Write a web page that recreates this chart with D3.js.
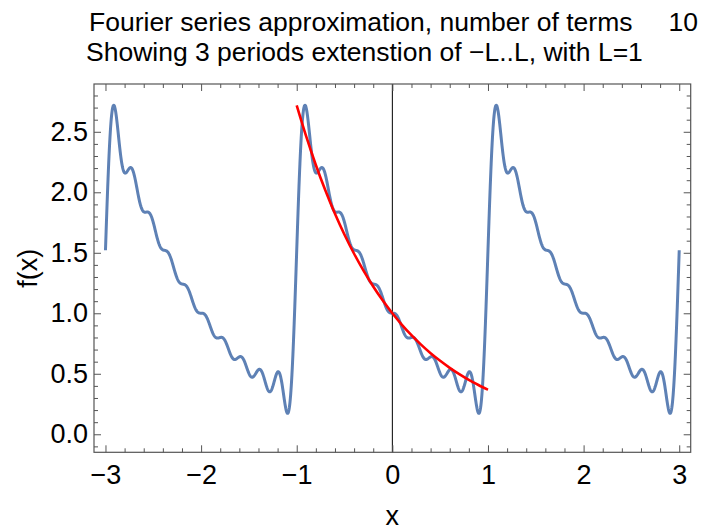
<!DOCTYPE html>
<html><head><meta charset="utf-8">
<script src="https://cdn.jsdelivr.net/npm/d3@7"></script>
<style>body{margin:0;background:#fff}svg{display:block}text{font-family:"Liberation Sans",Arial,sans-serif}</style>
</head><body>
<svg id="c" width="702" height="530"></svg>
<script>
// Fourier series coefficients (period 2L, L=1, 10 terms), as read/fitted from the plotted curve
const L = 1;
const nTerms = 10;
const a0half = 1.175201;
const aCoef = [-0.21624, 0.058066, -0.026166, 0.014791, -0.0094874, 0.0065966, -0.0048501, 0.0037152, -0.0029364, 0.0023791];
const bCoef = [-0.745, 0.372, -0.24661, 0.18587, -0.14903, 0.12434, -0.10666, 0.093373, -0.083024, 0.074741];
// exact function e^{-x} on [-1,1]
const fx = [-1,-0.9,-0.8,-0.7,-0.6,-0.5,-0.4,-0.3,-0.2,-0.1,0,0.1,0.2,0.3,0.4,0.5,0.6,0.7,0.8,0.9,1];
const fy = [2.718,2.460,2.226,2.014,1.822,1.649,1.492,1.350,1.221,1.105,1,0.905,0.819,0.741,0.670,0.607,0.549,0.497,0.449,0.407,0.368];
const xTicks = [-3,-2,-1,0,1,2,3];
const yTicks = [0.0,0.5,1.0,1.5,2.0,2.5];
const title1 = "Fourier series approximation, number of terms";
const title2 = "Showing 3 periods extenstion of \u2212L..L, with L=1";

const svg = d3.select("#c");
const x = d3.scaleLinear().domain([-3.12, 3.12]).range([94, 690.7]);
const y = d3.scaleLinear().domain([-0.149, 2.895]).range([452.3, 84]);
const frameCol = "#555";
const FS = 27;

function partial(t){
  let s = a0half;
  for(let n=1;n<=nTerms;n++){ s += aCoef[n-1]*Math.cos(n*Math.PI*t/L) + bCoef[n-1]*Math.sin(n*Math.PI*t/L); }
  return s;
}
const samples = d3.range(0, 1801).map(i => -3 + 6*i/1800);
const blue = samples.map(t => [t, partial(t)]);

const g = svg.append("g");
g.append("line").attr("x1", x(0)).attr("x2", x(0)).attr("y1", y.range()[1]).attr("y2", y.range()[0])
  .attr("stroke","#000").attr("stroke-width",1);

const line = d3.line().x(d=>x(d[0])).y(d=>y(d[1]));
g.append("path").datum(blue).attr("d", line).attr("fill","none")
  .attr("stroke","#5E81B5").attr("stroke-width",3).attr("stroke-linejoin","round");
const red = fx.map((v,i)=>[v, fy[i]]);
g.append("path").datum(red).attr("d", d3.line().x(d=>x(d[0])).y(d=>y(d[1])).curve(d3.curveMonotoneX))
  .attr("fill","none").attr("stroke","#FF0000").attr("stroke-width",2.6);

const X0 = x.range()[0], X1 = x.range()[1], Y0 = y.range()[0], Y1 = y.range()[1];
svg.append("rect").attr("x",X0).attr("y",Y1).attr("width",X1-X0).attr("height",Y0-Y1)
  .attr("fill","none").attr("stroke",frameCol).attr("stroke-width",1.2);

const xMinor = d3.range(-3.0, 3.01, 0.2).map(v=>+v.toFixed(1)).filter(v=>Math.abs(v-Math.round(v))>1e-6);
const yMinor = d3.range(-0.1, 2.85, 0.1).map(v=>+v.toFixed(1)).filter(v=>Math.abs(v*2-Math.round(v*2))>1e-6);
const fmtX = d => (d<0?"\u2212":"")+Math.abs(d);
const fmtY = d => d3.format(".1f")(d);

function styleAxis(sel){
  sel.select(".domain").remove();
  sel.selectAll("line").attr("stroke",frameCol);
  sel.selectAll("text").attr("fill","#000").style("font-size",FS+"px").style("font-family",'"Liberation Sans",Arial,sans-serif');
}
svg.append("g").attr("transform",`translate(0,${Y0})`)
  .call(d3.axisBottom(x).tickValues(xTicks).tickFormat(fmtX).tickSizeInner(-7).tickSizeOuter(0).tickPadding(12.5))
  .call(styleAxis);
svg.append("g").attr("transform",`translate(0,${Y0})`)
  .call(d3.axisBottom(x).tickValues(xMinor).tickFormat("").tickSizeInner(-4).tickSizeOuter(0)).call(styleAxis);
svg.append("g").attr("transform",`translate(0,${Y1})`)
  .call(d3.axisTop(x).tickValues(xTicks).tickFormat("").tickSizeInner(-7).tickSizeOuter(0)).call(styleAxis);
svg.append("g").attr("transform",`translate(0,${Y1})`)
  .call(d3.axisTop(x).tickValues(xMinor).tickFormat("").tickSizeInner(-4).tickSizeOuter(0)).call(styleAxis);
svg.append("g").attr("transform",`translate(${X0},0)`)
  .call(d3.axisLeft(y).tickValues(yTicks).tickFormat(fmtY).tickSizeInner(-7).tickSizeOuter(0).tickPadding(6))
  .call(styleAxis);
svg.append("g").attr("transform",`translate(${X0},0)`)
  .call(d3.axisLeft(y).tickValues(yMinor).tickFormat("").tickSizeInner(-4).tickSizeOuter(0)).call(styleAxis);
svg.append("g").attr("transform",`translate(${X1},0)`)
  .call(d3.axisRight(y).tickValues(yTicks).tickFormat("").tickSizeInner(-7).tickSizeOuter(0)).call(styleAxis);
svg.append("g").attr("transform",`translate(${X1},0)`)
  .call(d3.axisRight(y).tickValues(yMinor).tickFormat("").tickSizeInner(-4).tickSizeOuter(0)).call(styleAxis);

svg.append("text").attr("x", x(0)).attr("y", 525).attr("text-anchor","middle").style("font-size",FS+"px").text("x");
svg.append("text").attr("transform",`translate(37,${(Y0+Y1)/2}) rotate(-90)`).attr("text-anchor","middle").style("font-size",FS+"px").text("f(x)");
svg.append("text").attr("x", 89).attr("y", 31).style("font-size","26.5px").text(title1);
svg.append("text").attr("x", 698).attr("y", 31).attr("text-anchor","end").style("font-size","26.5px").text(String(nTerms));
svg.append("text").attr("x", 86).attr("y", 61).style("font-size","26.5px").text(title2);
</script>
</body></html>
